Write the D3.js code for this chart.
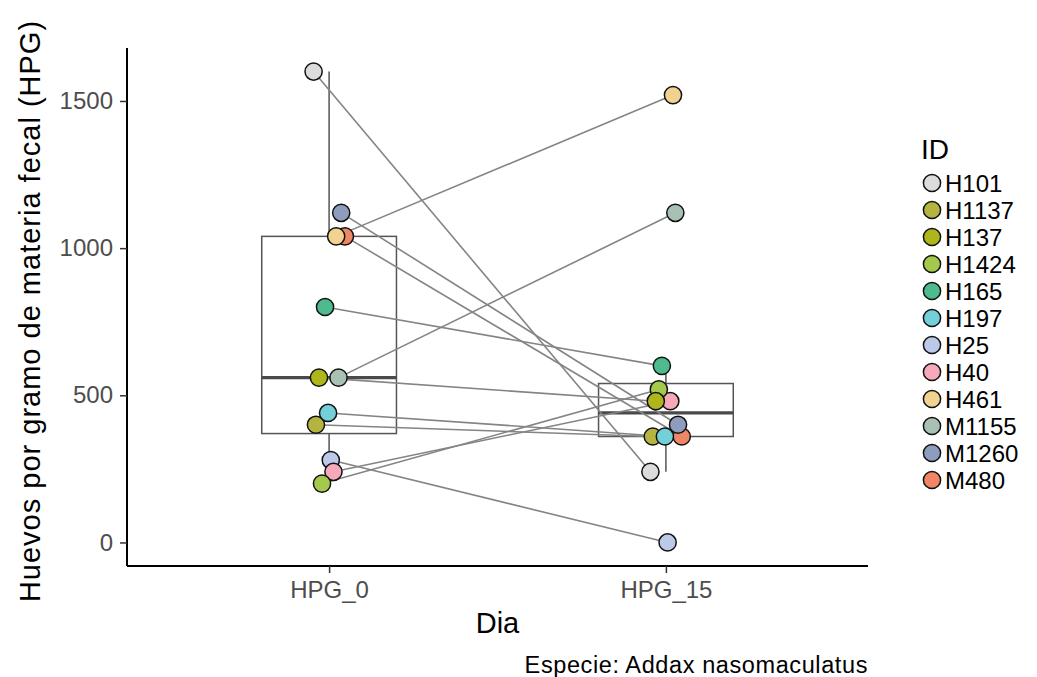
<!DOCTYPE html>
<html>
<head>
<meta charset="utf-8">
<script src="https://cdn.jsdelivr.net/npm/d3@7"></script>
<style>
  body { margin: 0; background: #fff; }
  svg { font-family: "Liberation Sans", Arial, sans-serif; }
</style>
</head>
<body>
<svg width="1037" height="677"></svg>
<script>
// data
const days = ["HPG_0", "HPG_15"];
const ids = ["H101", "H1137", "H137", "H1424", "H165", "H197", "H25", "H40", "H461", "M1155", "M1260", "M480"];
const hpg0 = [1600, 400, 560, 200, 800, 440, 280, 240, 1040, 560, 1120, 1040];
const hpg15 = [240, 360, 480, 520, 600, 360, 0, 480, 1520, 1120, 400, 360];
// horizontal jitter per animal, in category units
const jitter = [-0.046, -0.039, -0.03, -0.021, -0.012, -0.003, 0.005, 0.013, 0.021, 0.028, 0.036, 0.047];
const colors = ["#dcdcdc", "#b5b441", "#afb61c", "#a5ca4b", "#4dbb8d", "#73d0d8", "#bcc9e9", "#f8a9b9", "#f1d291", "#a9c1b5", "#8e9dbd", "#ef8666"];
const drawOrder = ["M480", "M1260", "H101", "H25", "H40", "H1424", "H137", "H1137", "H197", "H165", "M1155", "H461"];
const yTicks = [0, 500, 1000, 1500];

const svg = d3.select("svg"),
  margin = { top: 48, right: 169, bottom: 111, left: 127 },
  width = +svg.attr("width") - margin.left - margin.right,
  height = +svg.attr("height") - margin.top - margin.bottom;

const x = d3.scalePoint().domain(days).range([0, width]).padding(0.6);
const step = x.step();
const y = d3.scaleLinear().domain([-80, 1680]).range([height, 0]);
const color = d3.scaleOrdinal().domain(ids).range(colors);

const g = svg.append("g").attr("transform", `translate(${margin.left},${margin.top})`);

const rows = ids.map((id, i) => ({ id, v0: hpg0[i], v15: hpg15[i], j: jitter[i] }));

// boxplots
function boxStats(vals) {
  const s = vals.slice().sort(d3.ascending);
  const q1 = d3.quantile(s, 0.25), med = d3.quantile(s, 0.5), q3 = d3.quantile(s, 0.75);
  const iqr = q3 - q1;
  const lo = d3.min(s.filter((v) => v >= q1 - 1.5 * iqr));
  const hi = d3.max(s.filter((v) => v <= q3 + 1.5 * iqr));
  return { q1, med, q3, lo, hi };
}
const boxes = [boxStats(hpg0), boxStats(hpg15)];
const bw = step * 0.4;

days.forEach((day, k) => {
  const b = boxes[k], cx = x(day);
  const bg = g.append("g").attr("stroke", "#555").attr("fill", "none");
  bg.append("line").attr("x1", cx).attr("x2", cx).attr("y1", y(b.q3)).attr("y2", y(b.hi)).attr("stroke-width", 1.5);
  bg.append("line").attr("x1", cx).attr("x2", cx).attr("y1", y(b.q1)).attr("y2", y(b.lo)).attr("stroke-width", 1.5);
  bg.append("rect").attr("x", cx - bw / 2).attr("width", bw)
    .attr("y", y(b.q3)).attr("height", y(b.q1) - y(b.q3)).attr("stroke-width", 1.5);
  bg.append("line").attr("x1", cx - bw / 2).attr("x2", cx + bw / 2)
    .attr("y1", y(b.med)).attr("y2", y(b.med)).attr("stroke-width", 3.2).attr("stroke", "#4a4a4a");
});

// paired lines
g.selectAll(".pair").data(rows).enter().append("line")
  .attr("class", "pair")
  .attr("x1", (d) => x(days[0]) + d.j * step)
  .attr("x2", (d) => x(days[1]) + d.j * step)
  .attr("y1", (d) => y(d.v0))
  .attr("y2", (d) => y(d.v15))
  .attr("stroke", "#848484")
  .attr("stroke-width", 1.6);

// points
const pts = [];
days.forEach((day, k) => {
  drawOrder.forEach((id) => {
    const r = rows.find((d) => d.id === id);
    pts.push({ id, day, v: k === 0 ? r.v0 : r.v15, j: r.j });
  });
});
g.selectAll(".pt").data(pts).enter().append("circle")
  .attr("class", "pt")
  .attr("cx", (d) => x(d.day) + d.j * step)
  .attr("cy", (d) => y(d.v))
  .attr("r", 8.6)
  .attr("fill", (d) => color(d.id))
  .attr("stroke", "#111")
  .attr("stroke-width", 1.5);

// axes
const yAxis = g.append("g").call(d3.axisLeft(y).tickValues(yTicks).tickFormat(d3.format("d")).tickSize(7).tickPadding(7));
const xAxis = g.append("g").attr("transform", `translate(0,${height})`)
  .call(d3.axisBottom(x).tickSize(7).tickPadding(8));
[yAxis, xAxis].forEach((a) => {
  a.select(".domain").attr("stroke", "#000").attr("stroke-width", 2);
  a.selectAll(".tick line").attr("stroke", "#333").attr("stroke-width", 1.5);
  a.selectAll(".tick text").attr("fill", "#4d4d4d").style("font-size", "24px")
    .style("font-family", "Liberation Sans, Arial, sans-serif");
});
yAxis.select(".domain").attr("d", `M0,0V${height}`);
xAxis.select(".domain").attr("d", `M0,0H${width}`);

svg.append("text")
  .attr("transform", `translate(40,${margin.top + height / 2 + 4}) rotate(-90)`)
  .attr("text-anchor", "middle")
  .style("font-size", "29px")
  .style("letter-spacing", "1px")
  .text("Huevos por gramo de materia fecal (HPG)");

svg.append("text")
  .attr("x", margin.left + width / 2).attr("y", 633)
  .attr("text-anchor", "middle")
  .style("font-size", "29px")
  .text("Dia");

svg.append("text")
  .attr("x", margin.left + width).attr("y", 673)
  .attr("text-anchor", "end")
  .style("font-size", "23.5px")
  .style("letter-spacing", "0.6px")
  .text("Especie: Addax nasomaculatus");

// legend
const lg = svg.append("g").attr("transform", "translate(921,0)");
lg.append("text").attr("x", 0).attr("y", 159).style("font-size", "28px").text("ID");
const item = lg.selectAll(".key").data(ids).enter().append("g")
  .attr("class", "key")
  .attr("transform", (d, i) => `translate(0,${183 + i * 27})`);
item.append("circle").attr("cx", 11).attr("cy", 0).attr("r", 8.6)
  .attr("fill", (d) => color(d)).attr("stroke", "#111").attr("stroke-width", 1.5);
item.append("text").attr("x", 24).attr("y", 8.5).style("font-size", "24px").text((d) => d);
</script>
</body>
</html>
